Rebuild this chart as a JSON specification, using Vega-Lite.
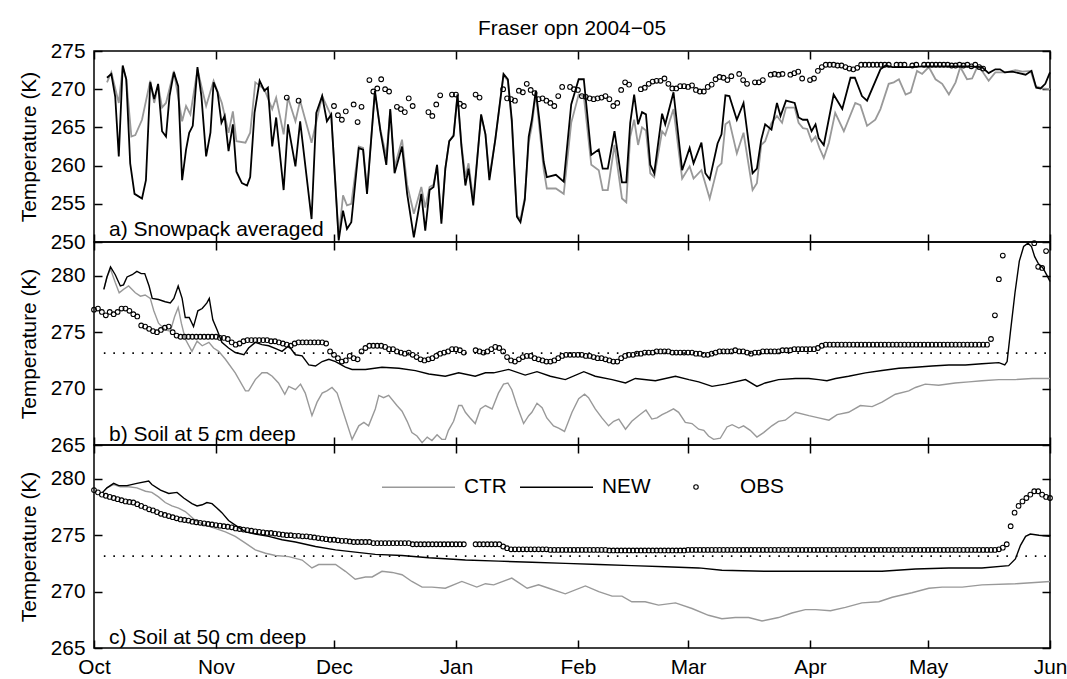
{
"$schema": "https://vega.github.io/schema/vega-lite/v6.json",
"background": "white",
"padding": {"left": 17, "top": 17, "right": 4, "bottom": 0},
"config": {
 "font": "Liberation Sans",
 "view": {"stroke": "black", "strokeWidth": 1.5},
 "axis": {"domain": false, "grid": false, "tickColor": "black", "tickWidth": 1.5, "tickSize": -8, "labelColor": "black", "labelFont": "Liberation Sans", "labelFontSize": 20.8, "labelFlush": false, "labelOverlap": false, "labelBound": false, "titleColor": "black", "titleFont": "Liberation Sans", "titleFontSize": 20.8, "titleFontWeight": "normal"},
 "text": {"color": "black", "font": "Liberation Sans"}
},
"resolve": {"scale": {"color": "independent", "shape": "independent"}, "legend": {"color": "independent", "shape": "independent"}},
"datasets": {
"a_ctr": [{"t":3.3,"v":270.9},{"t":4.4,"v":272.2},{"t":6.3,"v":268.2},{"t":7.3,"v":272.9},{"t":8.2,"v":271.3},{"t":9.5,"v":263.8},{"t":10.5,"v":264},{"t":12.2,"v":266},{"t":14.3,"v":271.1},{"t":15.3,"v":268.2},{"t":16.3,"v":270.5},{"t":17.3,"v":267.6},{"t":18.3,"v":268.2},{"t":20.3,"v":272.4},{"t":22.4,"v":265.8},{"t":23.4,"v":267.8},{"t":24.5,"v":266.7},{"t":26.3,"v":272.6},{"t":28.5,"v":267.8},{"t":30.4,"v":271.1},{"t":32.5,"v":268.2},{"t":34.2,"v":264.3},{"t":35.3,"v":267.1},{"t":36.2,"v":263.2},{"t":38.5,"v":263},{"t":39.7,"v":264.3},{"t":41,"v":270.9},{"t":43.3,"v":270},{"t":45.3,"v":267.4},{"t":46.3,"v":268.9},{"t":48.2,"v":264.1},{"t":49.3,"v":268.9},{"t":51.2,"v":265.8},{"t":52.4,"v":268.5},{"t":55.3,"v":263},{"t":58,"v":269.1},{"t":60.3,"v":266.5},{"t":62.2,"v":250.6},{"t":63.3,"v":256.1},{"t":64.3,"v":254.8},{"t":65.4,"v":255},{"t":67.3,"v":262.5},{"t":68.4,"v":262.3},{"t":69.4,"v":256.8},{"t":71.4,"v":269.6},{"t":72.8,"v":264.7},{"t":74.3,"v":261.2},{"t":75.3,"v":267.2},{"t":76.4,"v":259.8},{"t":78.3,"v":263.4},{"t":79.6,"v":257.5},{"t":81.3,"v":253.7},{"t":83.2,"v":257.2},{"t":84.2,"v":254.5},{"t":85.3,"v":257.2},{"t":86.3,"v":257.5},{"t":87.2,"v":260.1},{"t":88.3,"v":253},{"t":89.3,"v":259.6},{"t":90.3,"v":263.2},{"t":91.4,"v":264},{"t":92.4,"v":269.3},{"t":93.4,"v":262.8},{"t":94.4,"v":258.5},{"t":95.2,"v":260.3},{"t":96.4,"v":255.5},{"t":98.4,"v":266.5},{"t":99.5,"v":264.1},{"t":100.5,"v":258.5},{"t":102,"v":263.4},{"t":104.1,"v":271.8},{"t":105.2,"v":271.1},{"t":106.2,"v":265.5},{"t":107.5,"v":253.5},{"t":108.4,"v":253},{"t":109.5,"v":255.8},{"t":110.5,"v":263},{"t":111.3,"v":265.2},{"t":112.3,"v":269.5},{"t":113.2,"v":265},{"t":114.3,"v":259.5},{"t":115.1,"v":257},{"t":117.4,"v":257},{"t":119.4,"v":256.3},{"t":121.3,"v":265.6},{"t":123.2,"v":269.3},{"t":124.5,"v":269.1},{"t":126.4,"v":260.1},{"t":128.3,"v":259.4},{"t":129.3,"v":256.8},{"t":130.6,"v":256.8},{"t":132.3,"v":262.7},{"t":134.2,"v":255.7},{"t":135.3,"v":255.2},{"t":136.3,"v":263.8},{"t":137.3,"v":266},{"t":138.3,"v":262.7},{"t":139.3,"v":265},{"t":140.3,"v":264.6},{"t":141.4,"v":259},{"t":142.4,"v":258.5},{"t":144.4,"v":264.5},{"t":145.2,"v":264},{"t":147.3,"v":267.4},{"t":149.5,"v":258.3},{"t":151.4,"v":259.9},{"t":152.4,"v":258.3},{"t":154.4,"v":259.4},{"t":156.5,"v":255.7},{"t":158.5,"v":259.8},{"t":159.5,"v":260.3},{"t":160.5,"v":265.4},{"t":161.5,"v":265.8},{"t":163.4,"v":261.6},{"t":165.1,"v":264.3},{"t":167.4,"v":256.8},{"t":168.5,"v":257.7},{"t":169.6,"v":262.7},{"t":170.6,"v":263.2},{"t":172.2,"v":265.6},{"t":173.6,"v":266.5},{"t":174.9,"v":265.6},{"t":175.9,"v":267.6},{"t":178.1,"v":267.6},{"t":179.1,"v":265.6},{"t":180.2,"v":264.9},{"t":181.3,"v":264.8},{"t":182.4,"v":263.2},{"t":183.4,"v":263.8},{"t":184.4,"v":262.3},{"t":185.5,"v":261},{"t":186.8,"v":263},{"t":188.4,"v":266.9},{"t":190.6,"v":264.5},{"t":193.5,"v":268.2},{"t":194.8,"v":267.9},{"t":196.5,"v":265.2},{"t":198.6,"v":266},{"t":199.9,"v":267.4},{"t":202,"v":270.7},{"t":203.3,"v":270.9},{"t":204.6,"v":271.3},{"t":206.3,"v":269.3},{"t":207.6,"v":269.6},{"t":209.2,"v":272.4},{"t":210.5,"v":272},{"t":212.2,"v":272.9},{"t":213.9,"v":271.3},{"t":215.6,"v":270.7},{"t":217.3,"v":269.3},{"t":219,"v":270.9},{"t":220.2,"v":272.9},{"t":221.9,"v":271.3},{"t":223.2,"v":271.4},{"t":224.5,"v":272.9},{"t":225.7,"v":272.4},{"t":227.4,"v":271.1},{"t":229.1,"v":272.2},{"t":231.7,"v":272.2},{"t":234.2,"v":272.5},{"t":236,"v":272.3},{"t":238.1,"v":272.4},{"t":239.3,"v":270.4},{"t":241,"v":270.1},{"t":243,"v":270}],
"a_new": [{"t":3.3,"v":271.5},{"t":4.4,"v":272},{"t":5.4,"v":269},{"t":6.3,"v":261.2},{"t":7.3,"v":273.1},{"t":8.2,"v":271.3},{"t":9.2,"v":260.3},{"t":10.3,"v":256.3},{"t":12.2,"v":255.7},{"t":13.2,"v":258.1},{"t":14.3,"v":270.9},{"t":15.3,"v":268.7},{"t":16.3,"v":270.7},{"t":17.3,"v":264.5},{"t":18.3,"v":263.8},{"t":19.2,"v":269.1},{"t":20.3,"v":272.2},{"t":21.4,"v":270.4},{"t":22.4,"v":258.1},{"t":23.4,"v":262.1},{"t":24.2,"v":264.3},{"t":25.1,"v":265.2},{"t":26.3,"v":272.9},{"t":27.3,"v":269.1},{"t":28.5,"v":261.2},{"t":29.6,"v":264.3},{"t":30.4,"v":270.9},{"t":31.4,"v":269.6},{"t":32.4,"v":265.6},{"t":33.2,"v":266.5},{"t":34.2,"v":261.9},{"t":35.3,"v":265.4},{"t":36.2,"v":259.2},{"t":37.6,"v":257.7},{"t":38.9,"v":257.4},{"t":39.7,"v":258.5},{"t":40.8,"v":266.9},{"t":42.1,"v":271.1},{"t":43.3,"v":269.8},{"t":44.2,"v":270.2},{"t":45.3,"v":262.5},{"t":46.3,"v":266.3},{"t":48.2,"v":256.8},{"t":49.3,"v":265.4},{"t":51.2,"v":259.9},{"t":52.4,"v":265.8},{"t":55.3,"v":253},{"t":56.5,"v":266.9},{"t":58,"v":269.1},{"t":59.2,"v":265.8},{"t":60.3,"v":266.7},{"t":62.2,"v":250.2},{"t":63.3,"v":254.1},{"t":64.3,"v":251.7},{"t":65.4,"v":252.6},{"t":67.3,"v":262.3},{"t":68.4,"v":262.1},{"t":69.4,"v":256.3},{"t":71.4,"v":269.8},{"t":72.8,"v":264.5},{"t":74.3,"v":260.1},{"t":75.3,"v":267.4},{"t":76.4,"v":259},{"t":78.3,"v":262.5},{"t":79.6,"v":256.3},{"t":81.3,"v":250.6},{"t":83.2,"v":256.3},{"t":84.2,"v":251.5},{"t":85.3,"v":256.8},{"t":86.3,"v":257.2},{"t":87.2,"v":260.1},{"t":88.3,"v":252.4},{"t":89.3,"v":259.6},{"t":90.3,"v":263.2},{"t":91.4,"v":263.9},{"t":92.4,"v":269.3},{"t":93.4,"v":262.5},{"t":94.4,"v":257.4},{"t":95.2,"v":259.6},{"t":96.4,"v":254.8},{"t":98.4,"v":266.7},{"t":99.5,"v":264.1},{"t":100.5,"v":258.1},{"t":102,"v":263.4},{"t":104.1,"v":272},{"t":105.2,"v":271.3},{"t":106.2,"v":266},{"t":107.5,"v":253.3},{"t":108.4,"v":252.6},{"t":109.5,"v":255.5},{"t":110.5,"v":263.8},{"t":111.3,"v":266},{"t":112.3,"v":269.8},{"t":113.2,"v":266},{"t":114.3,"v":260.5},{"t":115.1,"v":258.5},{"t":117.4,"v":258.8},{"t":119.4,"v":257.9},{"t":121.3,"v":268},{"t":123.2,"v":271.3},{"t":124.5,"v":271.3},{"t":126.4,"v":261.4},{"t":128.3,"v":262.1},{"t":129.3,"v":259.6},{"t":130.6,"v":259.6},{"t":132.3,"v":264.5},{"t":134.2,"v":257.8},{"t":135.3,"v":257.8},{"t":136.3,"v":265.6},{"t":137.3,"v":269.3},{"t":138.3,"v":265.4},{"t":139.3,"v":267},{"t":140.3,"v":266.7},{"t":141.4,"v":260.1},{"t":142.4,"v":259},{"t":144.4,"v":266.8},{"t":145.2,"v":265.4},{"t":147.3,"v":269.6},{"t":149.5,"v":259.4},{"t":151.4,"v":262.3},{"t":152.4,"v":260.3},{"t":154.4,"v":263},{"t":155.4,"v":259},{"t":156.5,"v":258.2},{"t":158.5,"v":262.9},{"t":159.5,"v":264.1},{"t":160.5,"v":269.2},{"t":161.5,"v":269.1},{"t":163.4,"v":266},{"t":165.1,"v":268.2},{"t":167.4,"v":259},{"t":168.5,"v":259.6},{"t":169.6,"v":263.4},{"t":170.6,"v":265.4},{"t":172.2,"v":264.7},{"t":173.6,"v":268.2},{"t":174.5,"v":266.5},{"t":175.9,"v":268.5},{"t":178.1,"v":268.2},{"t":179.1,"v":266.3},{"t":180.2,"v":266},{"t":181.3,"v":266},{"t":182.4,"v":264.5},{"t":183.4,"v":265.4},{"t":184.2,"v":263.6},{"t":185.5,"v":262.7},{"t":188,"v":269.3},{"t":190.2,"v":267.4},{"t":192.3,"v":271.5},{"t":193.4,"v":271.5},{"t":195.2,"v":269.1},{"t":196.5,"v":268.5},{"t":199.9,"v":272.6},{"t":201.2,"v":273.1},{"t":203,"v":272.9},{"t":207,"v":272.9},{"t":211,"v":273},{"t":216,"v":273},{"t":220,"v":273},{"t":222.4,"v":273},{"t":225.7,"v":272.9},{"t":227.4,"v":272.1},{"t":229.1,"v":272.6},{"t":230.3,"v":272.6},{"t":231.5,"v":272.2},{"t":233.4,"v":272.3},{"t":235.1,"v":272.1},{"t":236.8,"v":271.9},{"t":238.3,"v":272.4},{"t":239.5,"v":270.2},{"t":240.6,"v":270.1},{"t":241.8,"v":270.7},{"t":243,"v":272.2}],
"a_obs": [{"t":49,"v":268.9},{"t":52,"v":268.5},{"t":61,"v":267.8},{"t":62,"v":266.6},{"t":63,"v":266},{"t":64,"v":267.1},{"t":66,"v":268},{"t":67,"v":265.7},{"t":68,"v":267.7},{"t":70,"v":271.2},{"t":71,"v":269.7},{"t":72,"v":270.1},{"t":73,"v":271.3},{"t":74,"v":270},{"t":75,"v":269.7},{"t":77,"v":267.7},{"t":78,"v":267.4},{"t":79,"v":267},{"t":80,"v":268.8},{"t":81,"v":267.8},{"t":85,"v":267},{"t":86,"v":266.5},{"t":87,"v":268},{"t":88,"v":269.2},{"t":91,"v":269.3},{"t":92,"v":269.3},{"t":93,"v":268.1},{"t":94,"v":267.8},{"t":97,"v":269.3},{"t":98,"v":268.9},{"t":104,"v":270},{"t":105,"v":268.8},{"t":106,"v":268.7},{"t":107,"v":268.5},{"t":108,"v":269.8},{"t":109,"v":269.6},{"t":110,"v":270.7},{"t":111,"v":269.9},{"t":112,"v":269.5},{"t":113,"v":268.7},{"t":114,"v":268.8},{"t":115,"v":268.5},{"t":116,"v":268.2},{"t":117,"v":267.8},{"t":118,"v":269.1},{"t":119,"v":270.3},{"t":121,"v":270.3},{"t":122,"v":270},{"t":123,"v":269.9},{"t":124,"v":269.1},{"t":125,"v":269},{"t":126,"v":268.8},{"t":127,"v":268.7},{"t":128,"v":268.8},{"t":129,"v":268.9},{"t":130,"v":269.1},{"t":131,"v":268.7},{"t":132,"v":267.8},{"t":133,"v":268.2},{"t":134,"v":269.9},{"t":135,"v":270.9},{"t":136,"v":270.6},{"t":139,"v":270},{"t":140,"v":270.2},{"t":141,"v":270.7},{"t":142,"v":271},{"t":143,"v":271.1},{"t":144,"v":271.1},{"t":145,"v":271.4},{"t":146,"v":270.7},{"t":147,"v":270.1},{"t":148,"v":270.1},{"t":149,"v":270.4},{"t":150,"v":270.4},{"t":151,"v":270.3},{"t":152,"v":270.5},{"t":153,"v":269.9},{"t":154,"v":269.7},{"t":155,"v":269.7},{"t":156,"v":270.3},{"t":157,"v":270.6},{"t":158,"v":271.3},{"t":159,"v":271.6},{"t":160,"v":271.5},{"t":161,"v":271.2},{"t":162,"v":271.7},{"t":164,"v":272},{"t":165,"v":271.2},{"t":166,"v":270.7},{"t":168,"v":270.9},{"t":169,"v":270.9},{"t":170,"v":271.2},{"t":172,"v":271.9},{"t":173,"v":272},{"t":174,"v":271.9},{"t":175,"v":272},{"t":177,"v":271.9},{"t":178,"v":272.1},{"t":179,"v":272.3},{"t":180,"v":271.4},{"t":182,"v":271.2},{"t":183,"v":271.4},{"t":184,"v":272.4},{"t":185,"v":272.9},{"t":186,"v":273.2},{"t":187,"v":273.2},{"t":188,"v":273.2},{"t":189,"v":273.1},{"t":190,"v":273.1},{"t":191,"v":272.9},{"t":192,"v":272.7},{"t":193,"v":272.6},{"t":194,"v":272.8},{"t":195,"v":273.2},{"t":196,"v":273.2},{"t":197,"v":273.2},{"t":198,"v":273.2},{"t":199,"v":273.2},{"t":200,"v":273.2},{"t":201,"v":273.2},{"t":202,"v":273.2},{"t":204,"v":273.2},{"t":205,"v":273.2},{"t":206,"v":273.2},{"t":208,"v":273.1},{"t":209,"v":273.2},{"t":211,"v":273.2},{"t":212,"v":273.2},{"t":213,"v":273.2},{"t":214,"v":273.2},{"t":215,"v":273.2},{"t":216,"v":273.2},{"t":217,"v":273.2},{"t":218,"v":273.1},{"t":219,"v":273.1},{"t":220,"v":273.2},{"t":221,"v":273.1},{"t":222,"v":273.2},{"t":223,"v":273},{"t":224,"v":273.2},{"t":225,"v":272.9},{"t":226,"v":272.7}],
"b_ctr": [{"t":2.5,"v":278.8},{"t":3.3,"v":279.9},{"t":4.2,"v":280.6},{"t":5.4,"v":279.4},{"t":6.4,"v":278.5},{"t":7.5,"v":278.8},{"t":8.8,"v":279.1},{"t":10.5,"v":278.5},{"t":11.8,"v":278.2},{"t":13,"v":278.3},{"t":14.3,"v":278},{"t":15.2,"v":276.9},{"t":16.4,"v":275.8},{"t":18.1,"v":275.2},{"t":19.4,"v":275.1},{"t":20.5,"v":276.4},{"t":21.4,"v":277.2},{"t":22.2,"v":275.8},{"t":23.2,"v":274.4},{"t":24.9,"v":273.3},{"t":26.2,"v":274.2},{"t":27.5,"v":273.8},{"t":29.2,"v":274.1},{"t":30.4,"v":273.6},{"t":31.7,"v":273.3},{"t":33.4,"v":272.6},{"t":35.9,"v":271.4},{"t":38.5,"v":269.8},{"t":39.3,"v":269.8},{"t":41,"v":270.8},{"t":42.7,"v":271.4},{"t":44,"v":271.4},{"t":45.3,"v":271.1},{"t":46.9,"v":270.5},{"t":48.5,"v":269.5},{"t":49.5,"v":270.2},{"t":51.2,"v":269.9},{"t":52.5,"v":270.4},{"t":53.7,"v":269.6},{"t":55.4,"v":267.6},{"t":56.7,"v":268.8},{"t":58,"v":269.6},{"t":59.2,"v":269.8},{"t":60.5,"v":270.1},{"t":61.8,"v":269.6},{"t":63.1,"v":268.2},{"t":65.6,"v":265.5},{"t":67.3,"v":266.7},{"t":68.6,"v":267},{"t":69.8,"v":266.7},{"t":71.5,"v":268.2},{"t":72.4,"v":269.4},{"t":73.6,"v":269.2},{"t":74.9,"v":269.4},{"t":77,"v":268.5},{"t":78.3,"v":268},{"t":79.6,"v":267.1},{"t":80.8,"v":266.1},{"t":82.1,"v":265.8},{"t":83.4,"v":265.2},{"t":84.7,"v":265.7},{"t":85.9,"v":265.4},{"t":87.2,"v":265.9},{"t":88.4,"v":265.5},{"t":89.3,"v":265.5},{"t":90.1,"v":266.3},{"t":91.4,"v":267.1},{"t":92.7,"v":268.5},{"t":93.5,"v":268.5},{"t":94.4,"v":267.9},{"t":95.6,"v":267.4},{"t":96.9,"v":266.9},{"t":98.2,"v":268.2},{"t":99.5,"v":268.5},{"t":101.2,"v":268.2},{"t":102.8,"v":269.6},{"t":104.1,"v":270.4},{"t":105.2,"v":270.5},{"t":106.2,"v":269.9},{"t":107.5,"v":268.5},{"t":109.2,"v":266.9},{"t":110.5,"v":267.6},{"t":111.3,"v":267.9},{"t":112.6,"v":268.7},{"t":113.9,"v":268.3},{"t":115.1,"v":267.4},{"t":116.8,"v":266.7},{"t":118.1,"v":266.5},{"t":119.6,"v":266.2},{"t":121.5,"v":267.9},{"t":123.2,"v":269.1},{"t":124.7,"v":269.5},{"t":125.7,"v":269.2},{"t":127.4,"v":268.2},{"t":129.1,"v":267.4},{"t":130.8,"v":266.7},{"t":132.1,"v":267.1},{"t":133.4,"v":267.3},{"t":135.1,"v":266.4},{"t":136.7,"v":267.1},{"t":138.4,"v":267.6},{"t":140.3,"v":268.1},{"t":141.8,"v":267.3},{"t":143.1,"v":267.4},{"t":144.4,"v":267.7},{"t":145.6,"v":267.9},{"t":147.3,"v":268.2},{"t":148.6,"v":267.9},{"t":150.3,"v":267},{"t":152,"v":266.9},{"t":153.7,"v":266.4},{"t":155,"v":266.3},{"t":156.2,"v":265.8},{"t":157.5,"v":265.5},{"t":159.2,"v":265.6},{"t":160.9,"v":266.6},{"t":162.2,"v":266.8},{"t":163.9,"v":266.5},{"t":165.1,"v":266.7},{"t":166.8,"v":266.3},{"t":168.5,"v":265.7},{"t":170.2,"v":266.1},{"t":172.3,"v":266.7},{"t":174,"v":267.1},{"t":175.7,"v":267.2},{"t":178.3,"v":267.9},{"t":181.7,"v":267.6},{"t":184.2,"v":267.4},{"t":186.8,"v":267.2},{"t":188.9,"v":267.7},{"t":191.8,"v":267.9},{"t":194.8,"v":268.5},{"t":197.8,"v":268.4},{"t":200.3,"v":268.8},{"t":203.7,"v":269.5},{"t":207.1,"v":269.8},{"t":208.8,"v":270.1},{"t":211.3,"v":270.4},{"t":214.7,"v":270.3},{"t":218.9,"v":270.5},{"t":222.4,"v":270.6},{"t":225.7,"v":270.7},{"t":230,"v":270.8},{"t":234.2,"v":270.8},{"t":238.5,"v":270.9},{"t":243,"v":270.9}],
"b_new": [{"t":2.5,"v":278.8},{"t":3.3,"v":279.9},{"t":4.2,"v":280.8},{"t":5.4,"v":280.1},{"t":6.7,"v":279.1},{"t":7.5,"v":279.2},{"t":8.4,"v":279.9},{"t":9.7,"v":280.1},{"t":10.9,"v":280.4},{"t":12,"v":280.2},{"t":12.9,"v":280.2},{"t":14,"v":279.1},{"t":14.8,"v":278},{"t":16.4,"v":277.9},{"t":18.1,"v":277.7},{"t":19.4,"v":277.6},{"t":20.3,"v":278},{"t":21.4,"v":279.1},{"t":22.4,"v":278},{"t":23.2,"v":276.3},{"t":24.2,"v":276.3},{"t":25.3,"v":275.5},{"t":26.4,"v":276.9},{"t":27.5,"v":277.1},{"t":28.7,"v":277.6},{"t":29.3,"v":278},{"t":30.2,"v":276.1},{"t":31.3,"v":275.2},{"t":32.5,"v":274.1},{"t":34.2,"v":273.6},{"t":35.9,"v":273.2},{"t":38.1,"v":273},{"t":39.3,"v":273.6},{"t":41,"v":274.1},{"t":42.7,"v":273.9},{"t":44.4,"v":273.8},{"t":46.5,"v":273.5},{"t":47.8,"v":273.3},{"t":49.5,"v":273.8},{"t":51.2,"v":273},{"t":52.9,"v":272.9},{"t":54.6,"v":272.1},{"t":56.3,"v":272},{"t":58,"v":272.4},{"t":59.7,"v":272.6},{"t":61.4,"v":272.4},{"t":63.9,"v":271.9},{"t":65.6,"v":271.7},{"t":69,"v":271.7},{"t":73.2,"v":271.9},{"t":77.5,"v":271.8},{"t":81.7,"v":271.6},{"t":85.1,"v":271.3},{"t":89.3,"v":271.1},{"t":92.7,"v":271.4},{"t":96.9,"v":271.1},{"t":99.5,"v":271.4},{"t":101.6,"v":271.4},{"t":105.4,"v":271.7},{"t":109.6,"v":271.2},{"t":112.6,"v":271.5},{"t":116,"v":271.1},{"t":119.8,"v":270.8},{"t":124.5,"v":271.5},{"t":127.4,"v":271.1},{"t":131.7,"v":270.8},{"t":135.1,"v":270.5},{"t":137.6,"v":270.9},{"t":142.7,"v":270.7},{"t":147.8,"v":271.1},{"t":151.2,"v":270.8},{"t":153.7,"v":270.6},{"t":157.1,"v":270.2},{"t":160.5,"v":270.4},{"t":165.6,"v":270.8},{"t":168.5,"v":270.2},{"t":170.6,"v":270.5},{"t":174,"v":270.8},{"t":178.3,"v":270.9},{"t":181.7,"v":270.9},{"t":184.2,"v":270.8},{"t":186.3,"v":270.7},{"t":188.5,"v":270.9},{"t":191.8,"v":271.1},{"t":196.1,"v":271.4},{"t":200.3,"v":271.6},{"t":204.6,"v":271.8},{"t":208.8,"v":271.9},{"t":213,"v":272},{"t":217.3,"v":272.1},{"t":221.5,"v":272.1},{"t":225.7,"v":272.2},{"t":230,"v":272.3},{"t":231.5,"v":272.1},{"t":232.1,"v":272.4},{"t":232.9,"v":274.9},{"t":234.1,"v":278.5},{"t":235.2,"v":281.3},{"t":236.3,"v":282.6},{"t":237.4,"v":282.9},{"t":238.3,"v":282.6},{"t":239.1,"v":281.7},{"t":240,"v":281.1},{"t":241.2,"v":280.7},{"t":242.3,"v":280},{"t":243,"v":279.5}],
"b_obs": [{"t":0,"v":277},{"t":1,"v":277.1},{"t":2,"v":276.8},{"t":3,"v":276.5},{"t":4,"v":276.8},{"t":5,"v":276.6},{"t":6,"v":276.8},{"t":7,"v":277.1},{"t":8,"v":277.1},{"t":9,"v":276.9},{"t":10,"v":276.6},{"t":11,"v":276.4},{"t":12,"v":275.6},{"t":13,"v":275.5},{"t":14,"v":275.3},{"t":15,"v":275.1},{"t":16,"v":275},{"t":17,"v":275.2},{"t":18,"v":275.4},{"t":19,"v":275.5},{"t":20,"v":275},{"t":21,"v":274.7},{"t":22,"v":274.6},{"t":23,"v":274.6},{"t":24,"v":274.6},{"t":25,"v":274.6},{"t":26,"v":274.6},{"t":27,"v":274.6},{"t":28,"v":274.6},{"t":29,"v":274.6},{"t":30,"v":274.6},{"t":31,"v":274.6},{"t":32,"v":274.5},{"t":33,"v":274.5},{"t":34,"v":274.4},{"t":35,"v":274.1},{"t":36,"v":273.9},{"t":37,"v":274},{"t":38,"v":274.2},{"t":39,"v":274.3},{"t":40,"v":274.3},{"t":41,"v":274.3},{"t":42,"v":274.3},{"t":43,"v":274.3},{"t":44,"v":274.3},{"t":45,"v":274.2},{"t":46,"v":274.2},{"t":47,"v":274.1},{"t":48,"v":274},{"t":49,"v":273.9},{"t":50,"v":273.8},{"t":51,"v":274},{"t":52,"v":274.1},{"t":53,"v":274.1},{"t":54,"v":274.1},{"t":55,"v":274.1},{"t":56,"v":274.1},{"t":57,"v":274.1},{"t":58,"v":274.1},{"t":59,"v":274},{"t":60,"v":273.3},{"t":61,"v":273},{"t":62,"v":272.7},{"t":63,"v":272.4},{"t":64,"v":272.5},{"t":65,"v":272.9},{"t":66,"v":272.7},{"t":67,"v":272.6},{"t":68,"v":273.3},{"t":69,"v":273.6},{"t":70,"v":273.8},{"t":71,"v":273.8},{"t":72,"v":273.8},{"t":73,"v":273.8},{"t":74,"v":273.7},{"t":75,"v":273.5},{"t":76,"v":273.5},{"t":77,"v":273.3},{"t":78,"v":273.2},{"t":79,"v":273.1},{"t":80,"v":273.2},{"t":81,"v":273},{"t":82,"v":272.8},{"t":83,"v":272.6},{"t":84,"v":272.5},{"t":85,"v":272.6},{"t":86,"v":272.7},{"t":87,"v":272.9},{"t":88,"v":273.1},{"t":89,"v":273.2},{"t":90,"v":273.3},{"t":91,"v":273.5},{"t":92,"v":273.5},{"t":93,"v":273.4},{"t":94,"v":273.2},{"t":97,"v":273.4},{"t":98,"v":273.3},{"t":99,"v":273.2},{"t":100,"v":273.3},{"t":101,"v":273.5},{"t":102,"v":273.7},{"t":103,"v":273.6},{"t":104,"v":273.3},{"t":105,"v":272.8},{"t":106,"v":272.5},{"t":107,"v":272.4},{"t":108,"v":272.6},{"t":109,"v":272.8},{"t":110,"v":272.9},{"t":111,"v":272.9},{"t":112,"v":272.7},{"t":113,"v":272.6},{"t":114,"v":272.5},{"t":115,"v":272.4},{"t":116,"v":272.4},{"t":117,"v":272.5},{"t":118,"v":272.7},{"t":119,"v":272.9},{"t":120,"v":273},{"t":121,"v":273},{"t":122,"v":273},{"t":123,"v":273},{"t":124,"v":273},{"t":125,"v":272.9},{"t":126,"v":272.9},{"t":127,"v":272.8},{"t":128,"v":272.7},{"t":129,"v":272.7},{"t":130,"v":272.6},{"t":131,"v":272.5},{"t":132,"v":272.4},{"t":133,"v":272.4},{"t":134,"v":272.7},{"t":135,"v":272.9},{"t":136,"v":273},{"t":137,"v":273},{"t":138,"v":273.1},{"t":139,"v":273.1},{"t":140,"v":273.2},{"t":141,"v":273.2},{"t":142,"v":273.2},{"t":143,"v":273.3},{"t":144,"v":273.3},{"t":145,"v":273.3},{"t":146,"v":273.3},{"t":147,"v":273.2},{"t":148,"v":273.2},{"t":149,"v":273.2},{"t":150,"v":273.2},{"t":151,"v":273.2},{"t":152,"v":273.2},{"t":153,"v":273.1},{"t":154,"v":273.1},{"t":155,"v":273},{"t":156,"v":273},{"t":157,"v":273.1},{"t":158,"v":273.2},{"t":159,"v":273.3},{"t":160,"v":273.3},{"t":161,"v":273.3},{"t":162,"v":273.3},{"t":163,"v":273.4},{"t":164,"v":273.3},{"t":165,"v":273.3},{"t":166,"v":273.2},{"t":167,"v":273.1},{"t":168,"v":273.2},{"t":169,"v":273.2},{"t":170,"v":273.3},{"t":171,"v":273.3},{"t":172,"v":273.3},{"t":173,"v":273.3},{"t":174,"v":273.3},{"t":175,"v":273.4},{"t":176,"v":273.4},{"t":177,"v":273.4},{"t":178,"v":273.5},{"t":179,"v":273.5},{"t":180,"v":273.5},{"t":181,"v":273.5},{"t":182,"v":273.5},{"t":183,"v":273.5},{"t":184,"v":273.6},{"t":185,"v":273.8},{"t":186,"v":273.9},{"t":187,"v":273.9},{"t":188,"v":273.9},{"t":189,"v":273.9},{"t":190,"v":273.9},{"t":191,"v":273.9},{"t":192,"v":273.9},{"t":193,"v":273.9},{"t":194,"v":273.9},{"t":195,"v":273.9},{"t":196,"v":273.9},{"t":197,"v":273.9},{"t":198,"v":273.9},{"t":199,"v":273.9},{"t":200,"v":273.9},{"t":201,"v":273.9},{"t":202,"v":273.9},{"t":203,"v":273.9},{"t":204,"v":273.9},{"t":205,"v":273.9},{"t":206,"v":273.9},{"t":207,"v":273.9},{"t":208,"v":273.9},{"t":209,"v":273.9},{"t":210,"v":273.9},{"t":211,"v":273.9},{"t":212,"v":273.9},{"t":213,"v":273.9},{"t":214,"v":273.9},{"t":215,"v":273.9},{"t":216,"v":273.9},{"t":217,"v":273.9},{"t":218,"v":273.9},{"t":219,"v":273.9},{"t":220,"v":273.9},{"t":221,"v":273.9},{"t":222,"v":273.9},{"t":223,"v":273.9},{"t":224,"v":273.9},{"t":225,"v":273.9},{"t":226,"v":273.9},{"t":227,"v":273.9},{"t":228,"v":274.4},{"t":229,"v":276.5},{"t":230,"v":279.7},{"t":231,"v":281.8},{"t":239,"v":282.9},{"t":240,"v":280.8},{"t":241,"v":280.7},{"t":242,"v":282.2}],
"c_ctr": [{"t":2.2,"v":278.8},{"t":3.3,"v":279.2},{"t":5,"v":279.5},{"t":6.7,"v":279.3},{"t":8.8,"v":279.3},{"t":10.9,"v":279.2},{"t":13.1,"v":278.9},{"t":14.7,"v":278.8},{"t":16.4,"v":278.4},{"t":18.1,"v":277.9},{"t":19.8,"v":277.6},{"t":21.5,"v":277.4},{"t":23.2,"v":277.1},{"t":25.8,"v":276.3},{"t":28.3,"v":275.9},{"t":30.8,"v":275.6},{"t":33.4,"v":275.3},{"t":35.9,"v":274.9},{"t":38.5,"v":274.3},{"t":41,"v":273.7},{"t":43.6,"v":273.4},{"t":46.1,"v":273.2},{"t":49.5,"v":273.1},{"t":52.9,"v":272.8},{"t":55.4,"v":272.1},{"t":57.1,"v":272.4},{"t":61.4,"v":272.4},{"t":63.9,"v":271.8},{"t":66.4,"v":271.1},{"t":69,"v":271.3},{"t":70.7,"v":271.3},{"t":73.2,"v":271.8},{"t":75.8,"v":271.7},{"t":78.3,"v":271.5},{"t":80.8,"v":270.9},{"t":83.4,"v":270.4},{"t":85.9,"v":270.4},{"t":89.3,"v":270.3},{"t":93.5,"v":270.9},{"t":97.3,"v":270.4},{"t":99.5,"v":270.7},{"t":101.6,"v":270.6},{"t":106.2,"v":271.2},{"t":110.1,"v":270.3},{"t":113,"v":270.6},{"t":115.6,"v":270.3},{"t":119.8,"v":269.8},{"t":124.9,"v":270.5},{"t":128.3,"v":270},{"t":131.7,"v":269.6},{"t":134.2,"v":269.6},{"t":136.7,"v":269.1},{"t":140.1,"v":269.1},{"t":143.5,"v":268.8},{"t":147.8,"v":269},{"t":152,"v":268.5},{"t":156.2,"v":267.9},{"t":159.6,"v":267.6},{"t":163,"v":267.7},{"t":166.4,"v":267.7},{"t":169.8,"v":267.4},{"t":174,"v":267.7},{"t":177.4,"v":268.1},{"t":180.8,"v":268.4},{"t":183.4,"v":268.4},{"t":187.2,"v":268.3},{"t":191,"v":268.6},{"t":195.2,"v":269},{"t":199.5,"v":269.1},{"t":202.9,"v":269.5},{"t":207.9,"v":269.9},{"t":212.2,"v":270.3},{"t":215.6,"v":270.4},{"t":220.7,"v":270.4},{"t":225.7,"v":270.6},{"t":234.2,"v":270.7},{"t":243,"v":270.9}],
"c_new": [{"t":2.2,"v":278.8},{"t":3.3,"v":279.2},{"t":5,"v":279.6},{"t":6.3,"v":279.4},{"t":8.4,"v":279.4},{"t":10.9,"v":279.6},{"t":13.9,"v":279.8},{"t":14.7,"v":279.5},{"t":16.9,"v":279},{"t":19,"v":278.7},{"t":21.1,"v":278.8},{"t":22.8,"v":278.3},{"t":24.9,"v":277.8},{"t":26.2,"v":277.6},{"t":27.5,"v":277.7},{"t":28.7,"v":277.9},{"t":30,"v":277.8},{"t":31.3,"v":277.4},{"t":32.5,"v":277},{"t":34.2,"v":276.3},{"t":35.9,"v":275.9},{"t":38.5,"v":275.3},{"t":41,"v":275.1},{"t":44.4,"v":274.9},{"t":47.8,"v":274.6},{"t":51.2,"v":274.4},{"t":56.3,"v":274},{"t":61.4,"v":273.7},{"t":66.4,"v":273.5},{"t":71.5,"v":273.3},{"t":78.3,"v":273.2},{"t":85.1,"v":273},{"t":94.4,"v":272.8},{"t":102.8,"v":272.7},{"t":111.3,"v":272.6},{"t":119.8,"v":272.5},{"t":128.3,"v":272.4},{"t":136.7,"v":272.3},{"t":145.2,"v":272.2},{"t":153.7,"v":272.1},{"t":159.6,"v":271.9},{"t":170.6,"v":271.8},{"t":183.4,"v":271.8},{"t":191.8,"v":271.8},{"t":200.3,"v":271.8},{"t":208.8,"v":272},{"t":217.3,"v":272.1},{"t":225.7,"v":272.1},{"t":232.5,"v":272.3},{"t":234.2,"v":272.9},{"t":235.5,"v":274.1},{"t":236.8,"v":274.9},{"t":238,"v":275.1},{"t":240.2,"v":275},{"t":243,"v":274.9}],
"c_obs": [{"t":0,"v":279},{"t":1,"v":278.8},{"t":2,"v":278.6},{"t":3,"v":278.5},{"t":4,"v":278.4},{"t":5,"v":278.3},{"t":6,"v":278.2},{"t":7,"v":278.1},{"t":8,"v":278},{"t":9,"v":277.95},{"t":10,"v":277.9},{"t":11,"v":277.75},{"t":12,"v":277.6},{"t":13,"v":277.45},{"t":14,"v":277.3},{"t":15,"v":277.2},{"t":16,"v":277.05},{"t":17,"v":276.9},{"t":18,"v":276.8},{"t":19,"v":276.7},{"t":20,"v":276.6},{"t":21,"v":276.5},{"t":22,"v":276.4},{"t":23,"v":276.35},{"t":24,"v":276.3},{"t":25,"v":276.2},{"t":26,"v":276.15},{"t":27,"v":276.1},{"t":28,"v":276.05},{"t":29,"v":276},{"t":30,"v":275.95},{"t":31,"v":275.9},{"t":32,"v":275.85},{"t":33,"v":275.8},{"t":34,"v":275.75},{"t":35,"v":275.7},{"t":36,"v":275.6},{"t":37,"v":275.55},{"t":38,"v":275.5},{"t":39,"v":275.45},{"t":40,"v":275.4},{"t":41,"v":275.35},{"t":42,"v":275.3},{"t":43,"v":275.25},{"t":44,"v":275.2},{"t":45,"v":275.2},{"t":46,"v":275.15},{"t":47,"v":275.1},{"t":48,"v":275.05},{"t":49,"v":275},{"t":50,"v":275},{"t":51,"v":274.95},{"t":52,"v":274.95},{"t":53,"v":274.9},{"t":54,"v":274.9},{"t":55,"v":274.85},{"t":56,"v":274.8},{"t":57,"v":274.75},{"t":58,"v":274.7},{"t":59,"v":274.65},{"t":60,"v":274.6},{"t":61,"v":274.6},{"t":62,"v":274.55},{"t":63,"v":274.5},{"t":64,"v":274.5},{"t":65,"v":274.45},{"t":66,"v":274.4},{"t":67,"v":274.4},{"t":68,"v":274.4},{"t":69,"v":274.4},{"t":70,"v":274.4},{"t":71,"v":274.3},{"t":72,"v":274.3},{"t":73,"v":274.3},{"t":74,"v":274.3},{"t":75,"v":274.3},{"t":76,"v":274.3},{"t":77,"v":274.3},{"t":78,"v":274.3},{"t":79,"v":274.3},{"t":80,"v":274.3},{"t":81,"v":274.2},{"t":82,"v":274.2},{"t":83,"v":274.2},{"t":84,"v":274.2},{"t":85,"v":274.2},{"t":86,"v":274.2},{"t":87,"v":274.2},{"t":88,"v":274.2},{"t":89,"v":274.2},{"t":90,"v":274.2},{"t":91,"v":274.2},{"t":92,"v":274.2},{"t":93,"v":274.2},{"t":94,"v":274.2},{"t":97,"v":274.2},{"t":98,"v":274.2},{"t":99,"v":274.2},{"t":100,"v":274.2},{"t":101,"v":274.2},{"t":102,"v":274.2},{"t":103,"v":274.2},{"t":104,"v":274},{"t":105,"v":273.85},{"t":106,"v":273.75},{"t":107,"v":273.75},{"t":108,"v":273.75},{"t":109,"v":273.75},{"t":110,"v":273.75},{"t":111,"v":273.75},{"t":112,"v":273.75},{"t":113,"v":273.75},{"t":114,"v":273.75},{"t":115,"v":273.75},{"t":116,"v":273.7},{"t":117,"v":273.7},{"t":118,"v":273.7},{"t":119,"v":273.7},{"t":120,"v":273.7},{"t":121,"v":273.7},{"t":122,"v":273.7},{"t":123,"v":273.7},{"t":124,"v":273.7},{"t":125,"v":273.7},{"t":126,"v":273.7},{"t":127,"v":273.7},{"t":128,"v":273.7},{"t":129,"v":273.7},{"t":130,"v":273.7},{"t":131,"v":273.65},{"t":132,"v":273.65},{"t":133,"v":273.65},{"t":134,"v":273.65},{"t":135,"v":273.65},{"t":136,"v":273.65},{"t":137,"v":273.65},{"t":138,"v":273.65},{"t":139,"v":273.65},{"t":140,"v":273.65},{"t":141,"v":273.65},{"t":142,"v":273.65},{"t":143,"v":273.65},{"t":144,"v":273.65},{"t":145,"v":273.65},{"t":146,"v":273.65},{"t":147,"v":273.65},{"t":148,"v":273.65},{"t":149,"v":273.65},{"t":150,"v":273.65},{"t":151,"v":273.7},{"t":152,"v":273.7},{"t":153,"v":273.7},{"t":154,"v":273.7},{"t":155,"v":273.7},{"t":156,"v":273.7},{"t":157,"v":273.7},{"t":158,"v":273.7},{"t":159,"v":273.7},{"t":160,"v":273.7},{"t":161,"v":273.7},{"t":162,"v":273.7},{"t":163,"v":273.7},{"t":164,"v":273.7},{"t":165,"v":273.7},{"t":166,"v":273.7},{"t":167,"v":273.7},{"t":168,"v":273.7},{"t":169,"v":273.7},{"t":170,"v":273.7},{"t":171,"v":273.7},{"t":172,"v":273.7},{"t":173,"v":273.7},{"t":174,"v":273.7},{"t":175,"v":273.7},{"t":176,"v":273.7},{"t":177,"v":273.7},{"t":178,"v":273.7},{"t":179,"v":273.7},{"t":180,"v":273.7},{"t":181,"v":273.7},{"t":182,"v":273.7},{"t":183,"v":273.7},{"t":184,"v":273.7},{"t":185,"v":273.7},{"t":186,"v":273.7},{"t":187,"v":273.7},{"t":188,"v":273.7},{"t":189,"v":273.7},{"t":190,"v":273.7},{"t":191,"v":273.7},{"t":192,"v":273.7},{"t":193,"v":273.7},{"t":194,"v":273.7},{"t":195,"v":273.7},{"t":196,"v":273.7},{"t":197,"v":273.7},{"t":198,"v":273.7},{"t":199,"v":273.7},{"t":200,"v":273.7},{"t":201,"v":273.7},{"t":202,"v":273.7},{"t":203,"v":273.7},{"t":204,"v":273.7},{"t":205,"v":273.7},{"t":206,"v":273.7},{"t":207,"v":273.7},{"t":208,"v":273.7},{"t":209,"v":273.7},{"t":210,"v":273.7},{"t":211,"v":273.7},{"t":212,"v":273.7},{"t":213,"v":273.7},{"t":214,"v":273.7},{"t":215,"v":273.7},{"t":216,"v":273.7},{"t":217,"v":273.7},{"t":218,"v":273.7},{"t":219,"v":273.7},{"t":220,"v":273.7},{"t":221,"v":273.7},{"t":222,"v":273.7},{"t":223,"v":273.7},{"t":224,"v":273.7},{"t":225,"v":273.7},{"t":226,"v":273.7},{"t":227,"v":273.7},{"t":228,"v":273.7},{"t":229,"v":273.7},{"t":230,"v":273.75},{"t":231,"v":273.9},{"t":232,"v":274.2},{"t":233,"v":275.8},{"t":234,"v":277},{"t":235,"v":277.6},{"t":236,"v":278},{"t":237,"v":278.3},{"t":238,"v":278.6},{"t":239,"v":278.9},{"t":240,"v":278.9},{"t":241,"v":278.6},{"t":242,"v":278.4},{"t":243,"v":278.3}]
},
"vconcat": [
 {
  "width": 956, "height": 191,
  "title": {"text": "Fraser opn 2004−05", "frame": "group", "anchor": "middle", "baseline": "alphabetic", "offset": -16, "fontSize": 20.8, "fontWeight": "normal", "font": "Liberation Sans", "color": "black"},
  "resolve": {"axis": {"x": "independent", "y": "independent"}},
  "layer": [
   {"data": {"name": "a_ctr"}, "mark": {"type": "line", "color": "#999999", "strokeWidth": 1.8},
    "encoding": {
     "x": {"field": "t", "type": "quantitative", "scale": {"domain": [0, 243], "nice": false, "zero": false}, "axis": {"orient": "bottom", "values": [0,31,61,92,123,151,182,212,243], "labels": false, "title": null}},
     "y": {"field": "v", "type": "quantitative", "scale": {"domain": [250, 275], "nice": false, "zero": false}, "axis": {"orient": "left", "values": [250,255,260,265,270,275], "labelPadding": 17, "title": "Temperature (K)", "titleX": -65, "titleY": 95.5, "titleBaseline": "middle", "titleAlign": "center"}}}},
   {"data": {"name": "a_new"}, "mark": {"type": "line", "color": "black", "strokeWidth": 1.8},
    "encoding": {
     "x": {"field": "t", "type": "quantitative", "axis": {"orient": "top", "values": [0,31,61,92,123,151,182,212,243], "labels": false, "title": null}},
     "y": {"field": "v", "type": "quantitative", "axis": {"orient": "right", "values": [250,255,260,265,270,275], "labels": false, "title": null}}}},
   {"data": {"name": "a_obs"}, "mark": {"type": "point", "shape": "circle", "filled": false, "color": "black", "size": 22, "strokeWidth": 1.1, "opacity": 1},
    "encoding": {
     "x": {"field": "t", "type": "quantitative", "axis": null},
     "y": {"field": "v", "type": "quantitative", "axis": null}}},
   {"data": {"values": [{"label": "a) Snowpack averaged"}]}, "mark": {"type": "text", "align": "left", "baseline": "alphabetic", "fontSize": 21},
    "encoding": {
     "x": {"datum": 3.8, "type": "quantitative", "axis": null},
     "y": {"datum": 250.8, "type": "quantitative", "axis": null},
     "text": {"field": "label"}}}
  ]
 },
 {
  "width": 956, "height": 203,
  "resolve": {"axis": {"x": "independent", "y": "independent"}},
  "layer": [
   {"data": {"values": [{"level": 273.15}]}, "mark": {"type": "rule", "color": "black", "strokeWidth": 1.6, "strokeDash": [1.6, 7.9]},
    "encoding": {
     "x": {"datum": 2.5, "type": "quantitative", "scale": {"domain": [0, 243], "nice": false, "zero": false}, "axis": null},
     "x2": {"datum": 243},
     "y": {"field": "level", "type": "quantitative", "scale": {"domain": [265, 283], "nice": false, "zero": false}, "axis": null}}},
   {"data": {"name": "b_ctr"}, "mark": {"type": "line", "color": "#999999", "strokeWidth": 1.4},
    "encoding": {
     "x": {"field": "t", "type": "quantitative", "axis": {"orient": "bottom", "values": [0,31,61,92,123,151,182,212,243], "labels": false, "title": null}},
     "y": {"field": "v", "type": "quantitative", "axis": {"orient": "left", "values": [265,270,275,280], "labelPadding": 17, "title": "Temperature (K)", "titleX": -65, "titleY": 101.5, "titleBaseline": "middle", "titleAlign": "center"}}}},
   {"data": {"name": "b_new"}, "mark": {"type": "line", "color": "black", "strokeWidth": 1.4},
    "encoding": {
     "x": {"field": "t", "type": "quantitative", "axis": {"orient": "top", "values": [0,31,61,92,123,151,182,212,243], "labels": false, "title": null}},
     "y": {"field": "v", "type": "quantitative", "axis": {"orient": "right", "values": [265,270,275,280], "labels": false, "title": null}}}},
   {"data": {"name": "b_obs"}, "mark": {"type": "point", "shape": "circle", "filled": false, "color": "black", "size": 22, "strokeWidth": 1.1, "opacity": 1},
    "encoding": {
     "x": {"field": "t", "type": "quantitative", "axis": null},
     "y": {"field": "v", "type": "quantitative", "axis": null}}},
   {"data": {"values": [{"label": "b) Soil at 5 cm deep"}]}, "mark": {"type": "text", "align": "left", "baseline": "alphabetic", "fontSize": 21},
    "encoding": {
     "x": {"datum": 3.8, "type": "quantitative", "axis": null},
     "y": {"datum": 265.35, "type": "quantitative", "axis": null},
     "text": {"field": "label"}}}
  ]
 },
 {
  "width": 956, "height": 203,
  "resolve": {"axis": {"x": "independent", "y": "independent"}},
  "layer": [
   {"data": {"values": [{"level": 273.15}]}, "mark": {"type": "rule", "color": "black", "strokeWidth": 1.6, "strokeDash": [1.6, 7.9]},
    "encoding": {
     "x": {"datum": 2.5, "type": "quantitative", "scale": {"domain": [0, 243], "nice": false, "zero": false}, "axis": null},
     "x2": {"datum": 243},
     "y": {"field": "level", "type": "quantitative", "scale": {"domain": [265, 283], "nice": false, "zero": false}, "axis": null}}},
   {"data": {"name": "c_ctr"}, "mark": {"type": "line", "strokeWidth": 1.4},
    "encoding": {
     "x": {"field": "t", "type": "quantitative", "axis": {"orient": "bottom", "values": [0,31,61,92,123,151,182,212,243], "labelPadding": 17, "title": null, "labelExpr": "['Oct','Nov','Dec','Jan','Feb','Mar','Apr','May','Jun'][indexof([0,31,61,92,123,151,182,212,243], datum.value)]"}},
     "y": {"field": "v", "type": "quantitative", "axis": {"orient": "left", "values": [265,270,275,280], "labelPadding": 17, "title": "Temperature (K)", "titleX": -65, "titleY": 101.5, "titleBaseline": "middle", "titleAlign": "center"}},
     "color": {"datum": "CTR", "type": "nominal",
       "scale": {"domain": ["CTR", "NEW"], "range": ["#999999", "#000000"]},
       "legend": {"orient": "none", "legendX": 287, "legendY": 4.5, "direction": "horizontal", "title": null, "padding": 0, "labelFontSize": 20.8, "labelFont": "Liberation Sans", "labelColor": "black", "labelOffset": 8, "columnPadding": 10, "symbolSize": 5329, "symbolType": "stroke", "symbolStrokeWidth": 1.5}}}},
   {"data": {"name": "c_new"}, "mark": {"type": "line", "strokeWidth": 1.4},
    "encoding": {
     "x": {"field": "t", "type": "quantitative", "axis": {"orient": "top", "values": [0,31,61,92,123,151,182,212,243], "labels": false, "title": null}},
     "y": {"field": "v", "type": "quantitative", "axis": {"orient": "right", "values": [265,270,275,280], "labels": false, "title": null}},
     "color": {"datum": "NEW", "type": "nominal"}}},
   {"data": {"name": "c_obs"}, "mark": {"type": "point", "filled": false, "color": "black", "size": 22, "strokeWidth": 1.1, "opacity": 1},
    "encoding": {
     "x": {"field": "t", "type": "quantitative", "axis": null},
     "y": {"field": "v", "type": "quantitative", "axis": null},
     "shape": {"datum": "OBS", "type": "nominal",
       "scale": {"domain": ["OBS"], "range": ["circle"]},
       "legend": {"orient": "none", "legendX": 591.6, "legendY": 31.6, "title": null, "padding": 0, "labelFontSize": 20.8, "labelFont": "Liberation Sans", "labelColor": "black", "labelOffset": 33.6, "symbolSize": 20, "symbolStrokeWidth": 1.1, "symbolStrokeColor": "black", "symbolFillColor": "transparent"}}}},
   {"data": {"values": [{"label": "c) Soil at 50 cm deep"}]}, "mark": {"type": "text", "align": "left", "baseline": "alphabetic", "fontSize": 21},
    "encoding": {
     "x": {"datum": 3.8, "type": "quantitative", "axis": null},
     "y": {"datum": 265.35, "type": "quantitative", "axis": null},
     "text": {"field": "label"}}}
  ]
 }
],
"spacing": 0,
"bounds": "flush"
}
